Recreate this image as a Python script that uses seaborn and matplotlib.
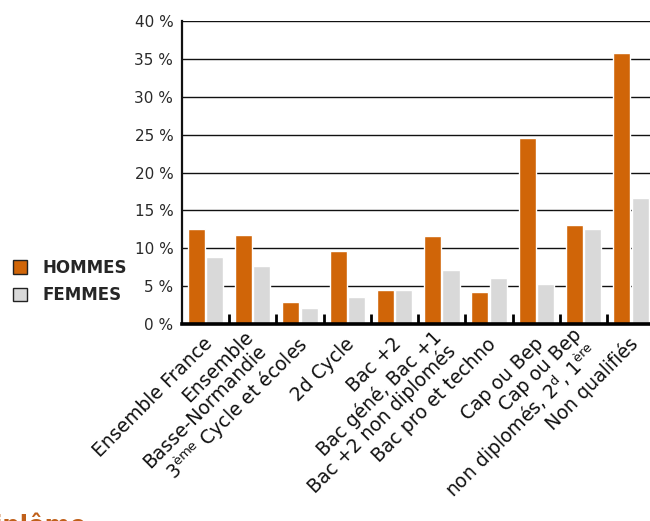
#!/usr/bin/env python3

import matplotlib
matplotlib.use("Agg")
import matplotlib.pyplot as plt
import matplotlib.transforms as mtrans
from matplotlib.patches import Patch
from matplotlib.ticker import FixedLocator
import pandas as pd
import seaborn as sns

categories = [
    "Ensemble France",
    "Ensemble\nBasse-Normandie",
    "3$^{\\mathrm{ème}}$ Cycle et écoles",
    "2d Cycle",
    "Bac +2",
    "Bac géné, Bac +1\nBac +2 non diplomés",
    "Bac pro et techno",
    "Cap ou Bep",
    "Cap ou Bep\nnon diplomés, 2$^{\\mathrm{d}}$, 1$^{\\mathrm{ère}}$",
    "Non qualifiés",
]
hommes = [12.5, 11.8, 2.9, 9.7, 4.5, 11.6, 4.3, 24.6, 13.1, 35.7]
femmes = [8.9, 7.7, 2.2, 3.6, 4.5, 7.2, 6.1, 5.3, 12.5, 16.6]
series = ["HOMMES", "FEMMES"]
yticks = [0, 5, 10, 15, 20, 25, 30, 35, 40]

orange = "#d06508"
grey = "#d9d9d9"


def loadData():
    d = {"cat": categories * 2,
         "val": hommes + femmes,
         "sexe": [series[0]] * len(hommes) + [series[1]] * len(femmes),
         }
    return pd.DataFrame(data=d)


def plotFig():
    d = loadData()
    sns.set_theme(style="white")
    plt.rcParams["font.family"] = ["DejaVu Sans"]

    fig = plt.figure(figsize=(6.5, 5.21), dpi=100)
    ax = fig.add_axes([0.2795, 0.3775, 0.7277, 0.5828])

    sns.barplot(x="cat", y="val", hue="sexe", data=d, ax=ax,
                palette=[orange, grey], saturation=1, width=0.776,
                gap=0.07, legend=False, zorder=2)

    # grid and axes
    ax.set_axisbelow(True)
    ax.yaxis.grid(True, color="#111111", linewidth=1.0)
    ax.set_ylim(0, 40)
    ax.set_xlim(-0.5, len(categories) - 0.5)
    ax.set_yticks(yticks)
    ax.set_yticklabels([f"{v} %" for v in yticks], fontsize=11, color="#2a2a2a")
    ax.tick_params(axis="y", length=0, pad=6)
    ax.set(xlabel="", ylabel="")

    for s in ["top", "right"]:
        ax.spines[s].set_visible(False)
    ax.spines["left"].set_color("#111111")
    ax.spines["left"].set_linewidth(1.6)
    ax.spines["bottom"].set_color("black")
    ax.spines["bottom"].set_linewidth(2.6)

    # small marks between groups
    ax.xaxis.set_minor_locator(FixedLocator([i + 0.5 for i in range(len(categories) - 1)]))
    ax.tick_params(axis="x", which="minor", direction="in", length=7,
                   width=2, color="black", bottom=True)
    ax.tick_params(axis="x", which="major", length=0, pad=12)

    ax.set_xticks(range(len(categories)))
    ax.set_xticklabels(categories, rotation=45, ha="right", va="center",
                       rotation_mode="anchor", fontsize=13.5, color="#111111",
                       multialignment="right", linespacing=1.0)
    shift = mtrans.ScaledTranslation(4 / 100, 0, fig.dpi_scale_trans)
    for lab in ax.get_xticklabels():
        lab.set_transform(lab.get_transform() + shift)

    # legend on the left
    handles = [Patch(facecolor=orange, edgecolor="#222222", linewidth=1),
               Patch(facecolor=grey, edgecolor="#222222", linewidth=1)]
    fig.legend(handles, series, loc="center left",
               bbox_to_anchor=(0.02, 0.4597), bbox_transform=fig.transFigure,
               frameon=False, borderpad=0, borderaxespad=0,
               handlelength=0.84, handleheight=0.84, handletextpad=0.9,
               labelspacing=0.57, prop={"size": 12, "weight": "bold"})

    # heading of the next section, cut by the bottom edge
    fig.text(-0.039, -0.0235, "Diplôme", color="#c0601a", fontsize=17.5,
             fontweight="bold", va="baseline", ha="left")

    plt.savefig("out.png", format="png", dpi=100)


def main():
    plotFig()


if __name__ == "__main__":
    main()
